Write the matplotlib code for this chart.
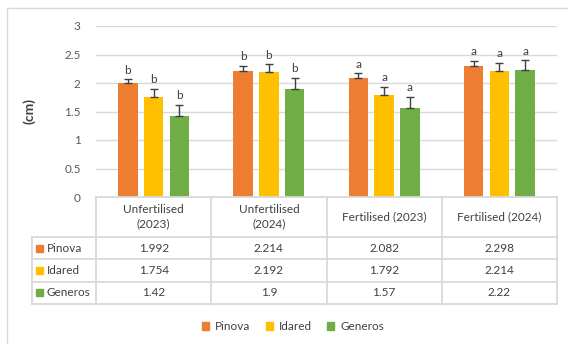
import matplotlib
matplotlib.use("Agg")
import matplotlib.pyplot as plt
from matplotlib.patches import Rectangle
from matplotlib.lines import Line2D
import numpy as np

categories = ["Unfertilised\n(2023)", "Unfertilised\n(2024)", "Fertilised (2023)", "Fertilised (2024)"]
series_names = ["Pinova", "Idared", "Generos"]
pinova = [1.992, 2.214, 2.082, 2.298]
idared = [1.754, 2.192, 1.792, 2.214]
generos = [1.42, 1.9, 1.57, 2.22]
pinova_err = [0.07, 0.085, 0.09, 0.09]
idared_err = [0.145, 0.14, 0.14, 0.14]
generos_err = [0.195, 0.19, 0.19, 0.18]
pinova_sig = ["b", "b", "a", "a"]
idared_sig = ["b", "b", "a", "a"]
generos_sig = ["b", "b", "a", "a"]
value_labels = [["1.992", "2.214", "2.082", "2.298"],
                ["1.754", "2.192", "1.792", "2.214"],
                ["1.42", "1.9", "1.57", "2.22"]]
y_ticks = [0, 0.5, 1, 1.5, 2, 2.5, 3]
y_tick_labels = ["0", "0.5", "1", "1.5", "2", "2.5", "3"]

colors = ["#ED7D31", "#FFC000", "#70AD47"]
grid_c = "#D9D9D9"
text_c = "#404040"
tick_c = "#595959"
FS = 8.5
plt.rcParams["font.family"] = ["Lato", "DejaVu Sans"]

W, H = 568, 344
fig = plt.figure(figsize=(W / 100, H / 100), dpi=100)


def fx(px):
    return px / W


def fy(py):
    return 1 - py / H


# outer chart frame
fig.add_artist(Rectangle((fx(7), fy(350)), fx(570) - fx(7), fy(8) - fy(350),
                         transform=fig.transFigure, fill=False,
                         edgecolor=grid_c, lw=1.0))

left, right, top, bottom = 96, 557, 26, 197
ax = fig.add_axes([fx(left), fy(bottom), fx(right) - fx(left), fy(top) - fy(bottom)])
ax.set_xlim(-0.5, 3.5)
ax.set_ylim(0, 3)
ax.set_yticks(y_ticks)
ax.set_yticklabels(y_tick_labels, fontsize=FS, color=tick_c)
ax.tick_params(axis="y", length=0, pad=11)
ax.set_xticks([])
for s in ax.spines.values():
    s.set_visible(False)
ax.grid(axis="y", color=grid_c, lw=1.0)
ax.set_axisbelow(True)

x = np.arange(len(categories))
step = 0.223
width = 0.17
all_vals = [pinova, idared, generos]
all_err = [pinova_err, idared_err, generos_err]
all_sig = [pinova_sig, idared_sig, generos_sig]
for i, (vals, errs, sig) in enumerate(zip(all_vals, all_err, all_sig)):
    xs = x + (i - 1) * step
    ax.bar(xs, vals, width=width, color=colors[i], zorder=2)
    ax.errorbar(xs, vals, yerr=[np.zeros(len(errs)), errs], fmt="none",
                ecolor="#404040", elinewidth=1.0, capsize=3, capthick=1.0, zorder=3)
    for xi, v, e, s in zip(xs, vals, errs, sig):
        ax.annotate(s, (xi, v + e), xytext=(0, 2.5), textcoords="offset points",
                    ha="center", va="bottom", fontsize=FS, color=text_c)

ax.set_ylabel("(cm)", fontsize=10, fontweight="bold", color=text_c, labelpad=21)

# data table under the axes, columns aligned with the categories
tab_top, hdr_bot, row_h = 197, 237, 22.3
tab_bot = hdr_bot + 3 * row_h
tax = fig.add_axes([fx(left), fy(tab_bot), fx(right) - fx(left), fy(tab_top) - fy(tab_bot)])
tax.set_xlim(-0.5, 3.5)
tax.set_ylim(tab_bot, tab_top)
tax.axis("off")
lab_left = -0.5 - (left - 32) / ((right - left) / 4)
lw_t = 1.3
# horizontal lines
tax.add_line(Line2D([-0.5, 3.5], [tab_top, tab_top], color=grid_c, lw=lw_t, clip_on=False))
for k in range(4):
    yy = hdr_bot + k * row_h
    tax.add_line(Line2D([lab_left, 3.5], [yy, yy], color=grid_c, lw=lw_t, clip_on=False))
# vertical lines
tax.add_line(Line2D([lab_left, lab_left], [hdr_bot, tab_bot], color=grid_c, lw=lw_t, clip_on=False))
for b in np.arange(-0.5, 4.0, 1.0):
    tax.add_line(Line2D([b, b], [tab_top, tab_bot], color=grid_c, lw=lw_t, clip_on=False))

for j, cat in enumerate(categories):
    tax.text(j, (tab_top + hdr_bot) / 2, cat, ha="center", va="center",
             fontsize=FS, color=text_c, linespacing=1.35)
for r, name in enumerate(series_names):
    yc = hdr_bot + (r + 0.5) * row_h
    tax.add_patch(Rectangle((lab_left + 0.035, yc + 3.5), 0.06, -7, color=colors[r], clip_on=False))
    tax.text(lab_left + 0.13, yc, name, ha="left", va="center", fontsize=FS, color=text_c)
    for j in range(len(categories)):
        tax.text(j, yc, value_labels[r][j], ha="center", va="center", fontsize=FS, color=text_c)

# legend
handles = [Rectangle((0, 0), 1, 1, color=c) for c in colors]
fig.legend(handles, series_names, loc="center", bbox_to_anchor=(fx(293), fy(326.5)),
           ncol=3, frameon=False, fontsize=FS, handlelength=0.6, handleheight=0.6,
           handletextpad=0.5, columnspacing=1.3, labelcolor=text_c)

fig.savefig("out.png", dpi=100)
